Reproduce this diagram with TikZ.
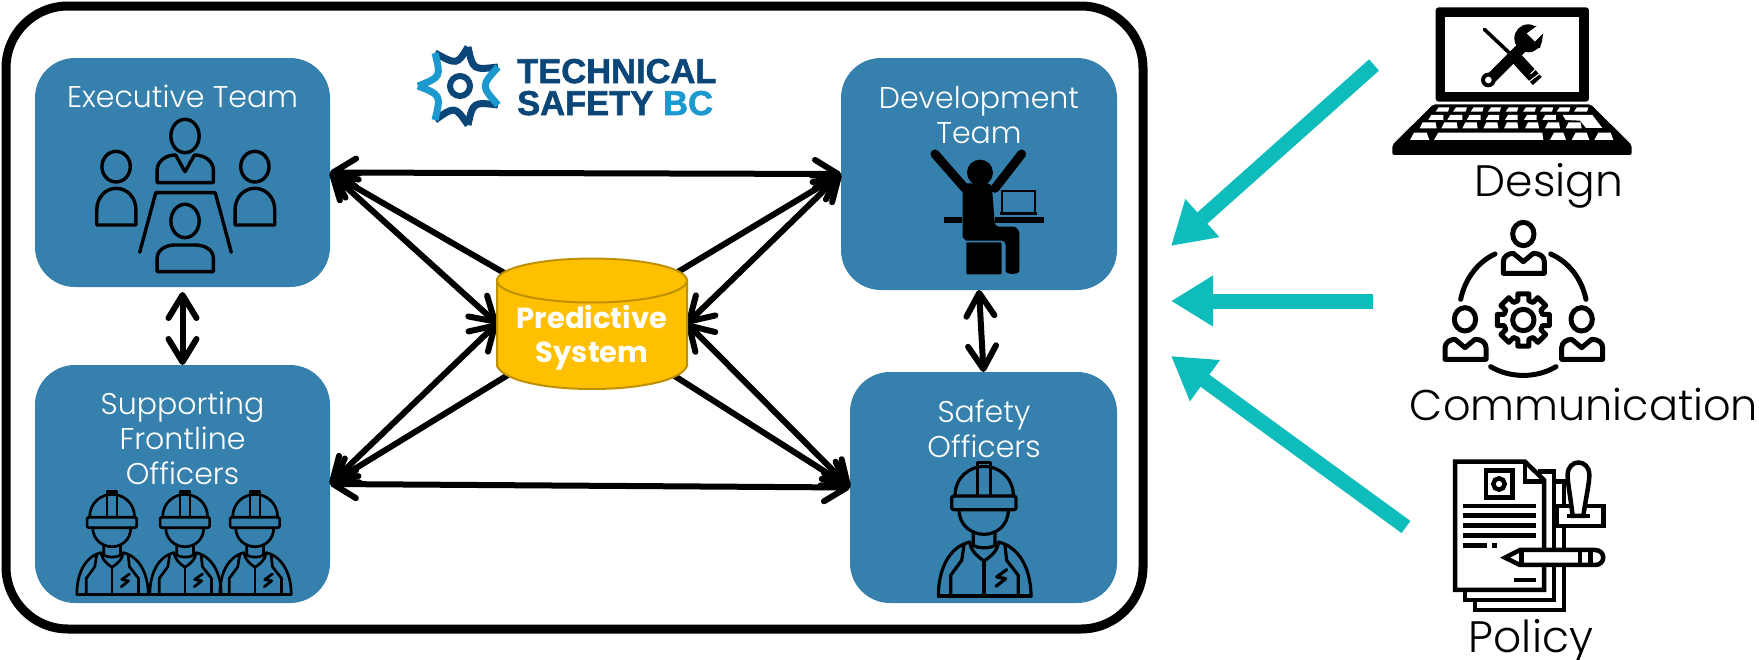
\documentclass[tikz,border=0pt]{standalone}
\usepackage{fontspec}
\setmainfont{Poppins}
\newfontfamily\lightfont{Poppins Light}
\newfontfamily\logofont[BoldFeatures={FakeBold=1.6}]{Liberation Sans}
\usetikzlibrary{arrows.meta}
\definecolor{teamblue}{HTML}{3680AD}
\definecolor{cylfill}{HTML}{FFC000}
\definecolor{cyledge}{HTML}{BF9000}
\definecolor{tealarrow}{HTML}{0FBCBC}
\definecolor{logodark}{HTML}{0B4679}
\definecolor{logolight}{HTML}{1C9AD0}
\tikzset{
  teambox/.style={fill=teamblue,rounded corners=40pt,inner sep=0pt,outer sep=0pt},
  teamtext/.style={text=white,font=\lightfont\fontsize{30}{35}\selectfont,align=center,anchor=base,inner sep=0pt},
  sidetext/.style={text=black,font=\lightfont\fontsize{44}{48}\selectfont,anchor=base,inner sep=0pt},
  link/.style={line width=6pt,{Straight Barb[length=23pt,width=28pt,round]}-{Straight Barb[length=23pt,width=28pt,round]}},
  linkone/.style={line width=6pt,-{Straight Barb[length=23pt,width=28pt,round]}},
  feed/.style={tealarrow,line width=15pt,-{Triangle[length=42pt,width=48pt]}},
  ico/.style={line width=3.4pt,line join=round,line cap=round},
  pics/worker/.style={code={
    \begin{scope}[shift={(-732,-395)}]
      \draw (645,497) .. controls (645,440) and (690,408) .. (732,408) .. controls (775,408) and (820,440) .. (820,497);
      \draw[rounded corners=2pt] (635,497) rectangle (828,538);
      \draw (712,495) -- (712,397) -- (752,397) -- (752,495);
      \draw (657,538) .. controls (657,585) and (695,612) .. (732,612) .. controls (770,612) and (805,585) .. (805,538);
      \draw (700,608) -- (700,645) .. controls (715,655) and (750,655) .. (765,645) -- (765,608);
      \draw (690,640) .. controls (695,665) and (715,680) .. (732,692) .. controls (750,680) and (770,665) .. (775,640);
      \draw (732,692) -- (732,797);
      \draw (595,797) .. controls (595,720) and (625,650) .. (690,635);
      \draw (873,797) .. controls (873,720) and (840,650) .. (775,635);
      \draw (595,797) -- (873,797);
      \draw (632,797) -- (632,735) -- (665,690) -- (672,645);
      \draw (835,797) -- (835,735) -- (800,690) -- (795,645);
      \draw (800,718) -- (770,740) -- (797,745) -- (768,768);
    \end{scope}
  }}
}
\begin{document}
\begin{tikzpicture}[x=1pt,y=-1pt]
\useasboundingbox (0,0) rectangle (1759,659);

% team boxes
\node[teambox,minimum width=295pt,minimum height=229pt] (exec) at (182.5,172.5) {};
\node[teambox,minimum width=295pt,minimum height=238pt] (supp) at (182.5,484) {};
\node[teambox,minimum width=276pt,minimum height=232pt] (dev) at (979,174) {};
\node[teambox,minimum width=267pt,minimum height=231pt] (safe) at (983.5,487.5) {};

% frame
\node[draw=black,line width=9pt,rounded corners=62pt,minimum width=1137pt,minimum height=623pt,inner sep=0pt] (frame) at (574.5,317.5) {};

% cylinder reference node (drawn after the links)
\node[minimum width=190pt,minimum height=131pt,inner sep=0pt,outer sep=0pt] (cyl) at (592,323.5) {};

% links
\draw[link] (exec.east) -- (dev.west);
\draw[link] (supp.east) -- (safe.west);
\draw[link,shorten <=5pt] (exec.south) -- (supp.north);
\draw[link] (dev.south) -- (safe.north);
\draw[link] (exec.east) -- (cyl.west);
\draw[link] (supp.east) -- (cyl.west);
\draw[link] (dev.west) -- (cyl.east);
\draw[link] (safe.west) -- (cyl.east);
\draw[linkone] (cyl.center) -- (exec.east);
\draw[linkone] (cyl.center) -- (supp.east);
\draw[linkone] (cyl.center) -- (dev.west);
\draw[linkone] (cyl.center) -- (safe.west);

\draw[draw=cyledge,line width=2pt,fill=cylfill] (497,280) -- (497,366) .. controls (505,382) and (550,389) .. (592,389) .. controls (634,389) and (680,382) .. (687,366) -- (687,280) -- cycle;
\draw[draw=cyledge,line width=2pt,fill=cylfill] (592,280.5) ellipse[x radius=95,y radius=22];
\node[text=white,font=\fontsize{29}{34}\selectfont\bfseries,align=center,anchor=base,inner sep=0pt] (cyltext) at (592,362) {Predictive\\System};

% labels
\node[teamtext] (exect) at (182.5,107) {Executive Team};
\node[teamtext] (suppt) at (182.5,484) {Supporting\\Frontline\\Officers};
\node[teamtext] (devt) at (979,143) {Development\\Team};
\node[teamtext] (safet) at (984,457) {Safety\\Officers};

% logo
\begin{scope}[line width=7pt,line cap=butt]
  \draw[logodark] (435,53) .. controls (457,65) .. (468,47);
  \draw[logodark] (468,47) .. controls (473,70) .. (498,67);
  \draw[logodark] (498,105) .. controls (473,102) .. (468,125);
  \draw[logodark] (468,125) .. controls (455,106) .. (435,120);
  \draw[logolight] (435,120) .. controls (441,95) .. (418,86);
  \draw[logolight] (418,86) .. controls (441,77) .. (435,53);
  \draw[logolight] (498,67) .. controls (481,86) .. (498,105);
  \draw[logodark,line width=6pt] (460,86) circle[radius=10];
\end{scope}
\node[text=logodark,font=\logofont\bfseries\fontsize{34.5}{36}\selectfont,anchor=base west,inner sep=0pt] (logoa) at (517,83) {TECHNICAL};
\node[text=logodark,font=\logofont\bfseries\fontsize{34.5}{36}\selectfont,anchor=base west,inner sep=0pt] (logob) at (517,115) {SAFETY};
\node[text=logolight,font=\logofont\bfseries\fontsize{34.5}{36}\selectfont,anchor=base west,inner sep=0pt] (logoc) at (663,115) {BC};

% exec icon (zoom coordinates)
\begin{scope}[xscale=0.472,yscale=0.3333,ico]
  \draw (392,408) ellipse[x radius=30,y radius=50];
  \draw (333,548) -- (333,510) .. controls (333,485) and (350,465) .. (372,465) -- (392,515) -- (412,465) .. controls (435,465) and (452,485) .. (452,510) -- (452,548) -- cycle;
  \draw (246,500) ellipse[x radius=30,y radius=46];
  \draw (540,500) ellipse[x radius=30,y radius=46];
  \draw (205,675) -- (205,630) .. controls (205,590) and (225,565) .. (246,565) .. controls (268,565) and (288,590) .. (288,630) -- (288,675) -- cycle;
  \draw (498,675) -- (498,630) .. controls (498,590) and (518,565) .. (540,565) .. controls (562,565) and (582,590) .. (582,630) -- (582,675) -- cycle;
  \draw (296,757) -- (330,578) -- (456,578) -- (490,757);
  \draw (392,663) ellipse[x radius=30,y radius=50];
  \draw (333,815) -- (333,775) .. controls (333,750) and (350,735) .. (372,735) -- (412,735) .. controls (435,735) and (452,750) .. (452,775) -- (452,815) -- cycle;
\end{scope}

% worker icons
\begin{scope}[line width=2.7pt,line join=round,line cap=round]
  \pic[scale=0.2567] at (112,491) {worker};
  \pic[scale=0.2567] at (185,491) {worker};
  \pic[scale=0.2567] at (255,491) {worker};
  \pic[scale=0.3333,line width=3.2pt] at (984,462) {worker};
\end{scope}

% dev icon
\begin{scope}[shift={(740,0)},scale=0.3333]
  \fill (720,518) circle[radius=39];
  \draw[line width=9pt,line cap=round] (585,462) -- (675,565);
  \draw[line width=9pt,line cap=round] (845,462) -- (765,565);
  \fill[rounded corners=4pt] (668,550) -- (755,550) -- (765,680) -- (810,680) .. controls (830,680) and (838,695) .. (838,710) -- (838,800) .. controls (838,825) and (797,825) .. (797,800) -- (797,722) -- (690,722) .. controls (678,722) and (668,712) .. (668,700) -- cycle;
  \fill[rounded corners=1pt] (679,727) rectangle (785,823);
  \fill (613,652) rectangle (665,668);
  \fill (765,652) rectangle (913,668);
  \draw[line width=2pt] (787,635) -- (787,572) -- (886,572) -- (886,635);
  \fill (780,635) rectangle (892,644);
\end{scope}

% design icon
\begin{scope}[shift={(1380,0)},scale=0.3333]
  \fill[rounded corners=3pt] (167,22) rectangle (627,305);
  \fill[white] (195,52) rectangle (598,277);
  \fill[rounded corners=2pt] (160,313) -- (632,313) -- (755,435) -- (755,465) -- (37,465) -- (37,435) -- cycle;
  \foreach \a/\b in {170/205,222/258,275/308,327/360,380/412,432/465,483/517,533/568,585/622}
    \fill[white] (\a+6,322) -- (\b+3,322) -- (\b-1,335) -- (\a-3,335) -- cycle;
  \foreach \a/\b in {148/190,205/247,263/302,320/357,378/413,435/470,490/528}
    \fill[white] (\a+6,345) -- (\b,345) -- (\b,360) -- (\a-3,360) -- cycle;
  \fill[white] (548,345) -- (637,345) -- (667,384) -- (618,384) -- (600,362) -- (557,360) -- cycle;
  \foreach \a/\b in {122/170,187/233,250/293,313/355,375/415,438/477,498/540,560/605}
    \fill[white] (\a+6,367) -- (\b-3,367) -- (\b,385) -- (\a-3,385) -- cycle;
  \foreach \a/\b in {90/148,510/558,575/628,643/700}
    \fill[white] (\a+12,398) -- (\b-8,398) -- (\b,420) -- (\a,420) -- cycle;
  \fill[white] (175,398) -- (487,398) -- (490,420) -- (162,420) -- cycle;
  % tools
  \draw[line width=3.6pt,line cap=round] (313,88) -- (400,170);
  \draw[line width=12pt] (405,170) -- (472,243);
  \draw[white,line width=1pt] (452,222) -- (468,206) (440,250) -- (480,220);
  \draw[line width=11pt,line cap=round] (330,238) -- (440,128);
  \fill (445,115) circle[radius=42];
  \fill (325,240) circle[radius=22];
  \fill[white] (466,70) -- (500,78) -- (490,100) -- (468,128) -- (440,100) -- cycle;
  \fill (405,105) -- (430,75) -- (470,78) -- (440,100) -- cycle;
  \fill (480,145) -- (490,100) -- (470,120) -- (455,135) -- cycle;
  \fill[white] (325,240) circle[radius=10];
\end{scope}
\node[sidetext] (design) at (1549,196) {Design};

% communication icon
\begin{scope}[shift={(1400,210)},scale=0.3333,line width=5pt,line join=round,line cap=round]
  \draw (370,72) ellipse[x radius=32,y radius=35];
  \draw (310,190) -- (310,155) .. controls (310,140) and (325,130) .. (340,130) -- (370,155) -- (400,130) .. controls (420,130) and (433,140) .. (433,155) -- (433,190) -- cycle;
  \draw (195,328) ellipse[x radius=32,y radius=35];
  \draw (135,448) -- (135,413) .. controls (135,398) and (150,388) .. (165,388) -- (195,413) -- (225,388) .. controls (245,388) and (258,398) .. (258,413) -- (258,448) -- cycle;
  \draw (545,328) ellipse[x radius=32,y radius=35];
  \draw (485,448) -- (485,413) .. controls (485,398) and (500,388) .. (515,388) -- (545,413) -- (575,388) .. controls (595,388) and (608,398) .. (608,413) -- (608,448) -- cycle;
  \draw (182,268) .. controls (195,205) and (235,155) .. (285,132);
  \draw (558,268) .. controls (545,205) and (505,155) .. (452,132);
  \draw (272,470) .. controls (330,505) and (410,505) .. (468,470);
  \begin{scope}[shift={(370,330)}]
    \draw (0,0) circle[radius=32];
    \draw (-16:60) -- (-12:80) -- (12:80) -- (16:60) -- (29:60) -- (33:80) -- (57:80) -- (61:60) -- (74:60) -- (78:80) -- (102:80) -- (106:60) -- (119:60) -- (123:80) -- (147:80) -- (151:60) -- (164:60) -- (168:80) -- (192:80) -- (196:60) -- (209:60) -- (213:80) -- (237:80) -- (241:60) -- (254:60) -- (258:80) -- (282:80) -- (286:60) -- (299:60) -- (303:80) -- (327:80) -- (331:60) -- cycle;
  \end{scope}
\end{scope}
\node[sidetext,font=\lightfont\fontsize{43}{48}\selectfont] (comm) at (1584,420) {Communication};

% policy icon
\begin{scope}[shift={(1400,430)},scale=0.3333,line width=4.5pt]
  \draw (415,125) -- (462,125) -- (462,510) -- (195,510) -- (195,480);
  \draw (462,155) -- (492,155) -- (492,540) -- (225,540) -- (225,510);
  \draw[fill=white] (165,95) -- (375,95) -- (432,150) -- (432,480) -- (165,480) -- cycle;
  \draw (375,95) -- (375,155) -- (432,155);
  \draw (258,122) rectangle (338,202);
  \draw (297,162) circle[radius=17];
  \foreach \y in {228,257,287,317} \draw (188,\y) -- (408,\y);
  \draw (188,346) -- (262,346);
  \draw (277,346) -- (290,346);
  \draw (343,450) -- (408,450);
  \draw[fill=white] (470,228) rectangle (610,288);
  \draw[fill=white] (518,258) .. controls (510,190) and (503,160) .. (503,135) .. controls (503,85) and (568,85) .. (568,135) .. controls (568,160) and (560,190) .. (550,258) -- cycle;
  \draw (500,258) -- (570,258);
  \draw[fill=white] (315,383) -- (360,360) -- (585,360) .. controls (618,360) and (618,405) .. (585,405) -- (360,405) -- cycle;
  \draw (365,360) -- (365,405);
  \draw (540,360) -- (540,405);
  \draw (572,360) -- (572,405);
\end{scope}
\node[sidetext] (policy) at (1531,652) {Policy};

% feedback arrows
\coordinate (fa) at (1374,65);
\coordinate (fb) at (1373,301);
\coordinate (fc) at (1406,527);
\coordinate (ta) at (1171,246);
\coordinate (tb) at (1171,301);
\coordinate (tc) at (1171,356);
\draw[feed] (fa) -- (ta);
\draw[feed] (fb) -- (tb);
\draw[feed] (fc) -- (tc);
\end{tikzpicture}
\end{document}
